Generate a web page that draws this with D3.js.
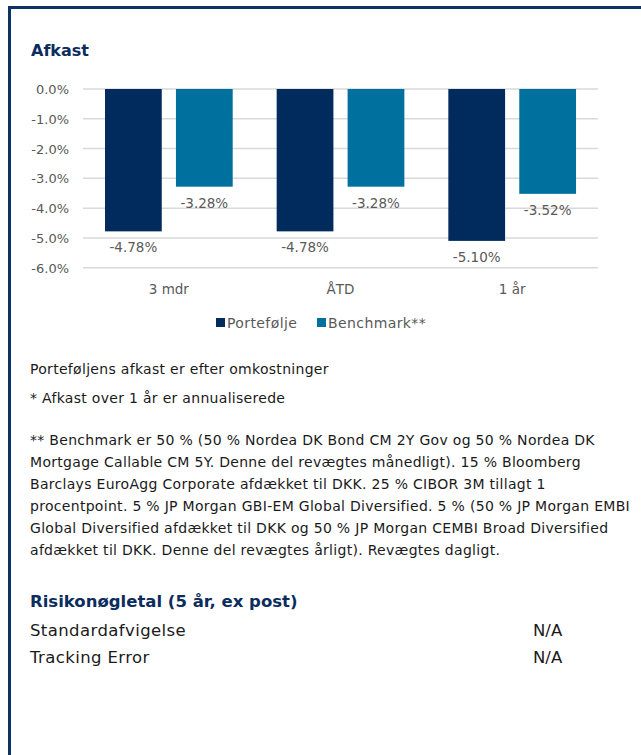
<!DOCTYPE html>
<html>
<head>
<meta charset="utf-8">
<script src="https://cdn.jsdelivr.net/npm/d3@7"></script>
<style>
  body { margin: 0; background: #fff; }
  svg text { font-family: "DejaVu Sans", sans-serif; }
</style>
</head>
<body>
<div id="chart"></div>
<script>
// data
var categories = ["3 mdr", "ÅTD", "1 år"];
var seriesNames = ["Portefølje", "Benchmark**"];
var portefolje = [-4.78, -4.78, -5.10];
var benchmark = [-3.28, -3.28, -3.52];
var yTicks = [0, -1, -2, -3, -4, -5, -6];

var noteLines = [
  "** Benchmark er 50 % (50 % Nordea DK Bond CM 2Y Gov og 50 % Nordea DK",
  "Mortgage Callable CM 5Y. Denne del revægtes månedligt). 15 % Bloomberg",
  "Barclays EuroAgg Corporate afdækket til DKK. 25 % CIBOR 3M tillagt 1",
  "procentpoint. 5 % JP Morgan GBI-EM Global Diversified. 5 % (50 % JP Morgan EMBI",
  "Global Diversified afdækket til DKK og 50 % JP Morgan CEMBI Broad Diversified",
  "afdækket til DKK. Denne del revægtes årligt). Revægtes dagligt."
];
var riskLabels = ["Standardafvigelse", "Tracking Error"];
var riskValues = ["N/A", "N/A"];

var navy = "#002b5c";
var teal = "#00709e";
var colors = [navy, teal];
var grey = "#595959";

var W = 641, H = 755;
var svg = d3.select("#chart").append("svg")
  .attr("width", W).attr("height", H);

// frame
svg.append("rect")
  .attr("x", 9.5).attr("y", 7.5)
  .attr("width", W + 20).attr("height", H + 20)
  .attr("fill", "none")
  .attr("stroke", "#0d3263")
  .attr("stroke-width", 3);

svg.append("text")
  .attr("x", 31).attr("y", 56)
  .style("font-size", "16px").style("font-weight", "bold")
  .style("fill", "#0b2d5e")
  .text("Afkast");

// scales
var x0 = d3.scaleBand().domain(categories).range([83, 598]);
var x1 = d3.scaleBand().domain(seriesNames).range([22, 149.7]).paddingInner(0.2);
var y = d3.scaleLinear().domain([-6, 0]).range([267.7, 89]);

// grid
svg.append("g").selectAll("line")
  .data(yTicks).enter().append("line")
    .attr("x1", 83).attr("x2", 598)
    .attr("y1", function(d) { return y(d); })
    .attr("y2", function(d) { return y(d); })
    .attr("stroke", "#d9d9d9")
    .attr("stroke-width", 1.5);

// y axis labels
svg.append("g").selectAll("text")
  .data(yTicks).enter().append("text")
    .attr("x", 69)
    .attr("y", function(d) { return y(d) + 5; })
    .attr("text-anchor", "end")
    .style("font-size", "13px").style("fill", grey)
    .text(function(d) { return d.toFixed(1) + "%"; });

var rows = categories.map(function(c, i) {
  return { cat: c, values: [portefolje[i], benchmark[i]] };
});

var groups = svg.append("g").selectAll("g")
  .data(rows).enter().append("g")
    .attr("transform", function(d) { return "translate(" + x0(d.cat) + ",0)"; });

groups.selectAll("rect")
  .data(function(d) { return d.values.map(function(v, j) { return { name: seriesNames[j], v: v, j: j }; }); })
  .enter().append("rect")
    .attr("x", function(d) { return x1(d.name); })
    .attr("y", y(0))
    .attr("width", x1.bandwidth())
    .attr("height", function(d) { return y(d.v) - y(0); })
    .attr("fill", function(d) { return colors[d.j]; });

groups.selectAll("text")
  .data(function(d) { return d.values.map(function(v, j) { return { name: seriesNames[j], v: v }; }); })
  .enter().append("text")
    .attr("x", function(d) { return x1(d.name) + x1.bandwidth() / 2; })
    .attr("y", function(d) { return y(d.v) + 21; })
    .attr("text-anchor", "middle")
    .style("font-size", "13.5px").style("fill", grey)
    .text(function(d) { return d.v.toFixed(2) + "%"; });

// category labels
svg.append("g").selectAll("text")
  .data(categories).enter().append("text")
    .attr("x", function(d) { return x0(d) + x0.bandwidth() / 2; })
    .attr("y", 294)
    .attr("text-anchor", "middle")
    .style("font-size", "13.5px").style("fill", grey)
    .text(function(d) { return d; });

// legend
var legendX = [216, 317];
var lg = svg.append("g").selectAll("g")
  .data(seriesNames).enter().append("g")
    .attr("transform", function(d, i) { return "translate(" + legendX[i] + ",318)"; });
lg.append("rect")
  .attr("width", 9).attr("height", 9)
  .attr("fill", function(d, i) { return colors[i]; });
lg.append("text")
  .attr("x", 11).attr("y", 10)
  .style("font-size", "14px").style("letter-spacing", "0.4px").style("fill", grey)
  .text(function(d) { return d; });

// notes
var notes = svg.append("g")
  .style("font-size", "14px").style("letter-spacing", "0.3px")
  .style("fill", "#1a1a1a");
notes.append("text").attr("x", 30).attr("y", 374).text("Porteføljens afkast er efter omkostninger");
notes.append("text").attr("x", 30).attr("y", 403).text("* Afkast over 1 år er annualiserede");
notes.selectAll("text.line")
  .data(noteLines).enter().append("text")
    .attr("class", "line")
    .attr("x", 30)
    .attr("y", function(d, i) { return 445 + i * 22; })
    .text(function(d) { return d; });

// risk table
svg.append("text")
  .attr("x", 30).attr("y", 607)
  .style("font-size", "16.5px").style("font-weight", "bold")
  .style("fill", "#0b2d5e")
  .text("Risikonøgletal (5 år, ex post)");

var risk = svg.append("g").selectAll("g")
  .data(riskLabels).enter().append("g")
    .attr("transform", function(d, i) { return "translate(0," + (636 + i * 27) + ")"; });
risk.append("text").attr("x", 30)
  .style("font-size", "16.5px").style("letter-spacing", "0.4px").style("fill", "#1a1a1a")
  .text(function(d) { return d; });
risk.append("text").attr("x", 533)
  .style("font-size", "16.5px").style("fill", "#1a1a1a")
  .text(function(d, i) { return riskValues[i]; });
</script>
</body>
</html>
